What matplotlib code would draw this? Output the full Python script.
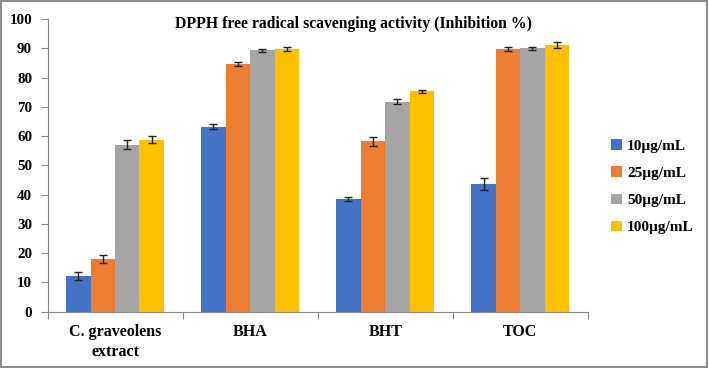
"""DPPH free radical scavenging activity - grouped bar chart with error bars."""

import matplotlib
matplotlib.use("Agg")
import matplotlib.pyplot as plt
import numpy as np
from matplotlib.patches import Rectangle

# ---------------------------------------------------------------------------
# Data
# ---------------------------------------------------------------------------

categories = ["C. graveolens\nextract", "BHA", "BHT", "TOC"]
series_labels = ["10\u00b5g/mL", "25\u00b5g/mL", "50\u00b5g/mL", "100\u00b5g/mL"]

conc_10 = [12.3, 63.2, 38.6, 43.7]
conc_25 = [17.9, 84.7, 58.3, 89.8]
conc_50 = [57.1, 89.3, 71.8, 90.0]
conc_100 = [58.7, 89.9, 75.4, 91.2]

err_10 = [1.4, 0.8, 0.7, 2.1]
err_25 = [1.4, 0.6, 1.5, 0.6]
err_50 = [1.5, 0.6, 0.8, 0.6]
err_100 = [1.2, 0.7, 0.5, 0.9]

y_ticks = [0, 10, 20, 30, 40, 50, 60, 70, 80, 90, 100]

# ---------------------------------------------------------------------------
# Style
# ---------------------------------------------------------------------------

_COLORS = ["#4472C4", "#ED7D31", "#A5A5A5", "#FFC000"]
_FONT = "Liberation Serif"

plt.rcParams.update({
    "font.family": [_FONT, "DejaVu Serif"],
    "font.weight": "bold",
})

fig = plt.figure(figsize=(7.09, 3.68), dpi=100)
ax = fig.add_axes([0.067, 0.153, 0.762, 0.795])

values = [conc_10, conc_25, conc_50, conc_100]
errors = [err_10, err_25, err_50, err_100]

x = np.arange(len(categories))
width = 0.181
offsets = (np.arange(len(values)) - 1.5) * width

for vals, errs, off, color, label in zip(values, errors, offsets, _COLORS, series_labels):
    ax.bar(x + off, vals, width, color=color, label=label, edgecolor="none",
           yerr=errs, capsize=3,
           error_kw=dict(ecolor="#222222", elinewidth=1.0, capthick=1.0))

ax.set_xlim(-0.5, len(categories) - 0.5)
ax.set_ylim(0, 100)
ax.set_yticks(y_ticks)
ax.tick_params(axis="y", labelsize=10.8, length=5, width=0.8, color="#888888", pad=6)

# category labels at centres, tick marks at group boundaries
ax.set_xticks(x)
ax.set_xticklabels(categories, fontsize=11.5, fontweight="bold", linespacing=1.3)
ax.tick_params(axis="x", length=0, pad=9)
ax.set_xticks(np.arange(len(categories) + 1) - 0.5, minor=True)
ax.tick_params(axis="x", which="minor", length=5, width=0.8, color="#888888")

for side in ("top", "right"):
    ax.spines[side].set_visible(False)
for side in ("left", "bottom"):
    ax.spines[side].set_color("#888888")
    ax.spines[side].set_linewidth(0.8)

ax.text(0.567, 0.985, "DPPH free radical scavenging activity (Inhibition %)",
        transform=ax.transAxes, ha="center", va="center",
        fontsize=11.3, fontweight="bold")

leg = fig.legend(loc="upper left", bbox_to_anchor=(0.853, 0.638), frameon=False,
                 fontsize=11, handlelength=0.7, handleheight=0.7,
                 handletextpad=0.35, labelspacing=0.88, borderaxespad=0)

# outer frame around the whole picture
fig.patches.append(Rectangle((0.002, 0.003), 0.995, 0.994, transform=fig.transFigure,
                             fill=False, edgecolor="#8c8c8c", linewidth=1.5))

fig.savefig("out.png", dpi=100)
